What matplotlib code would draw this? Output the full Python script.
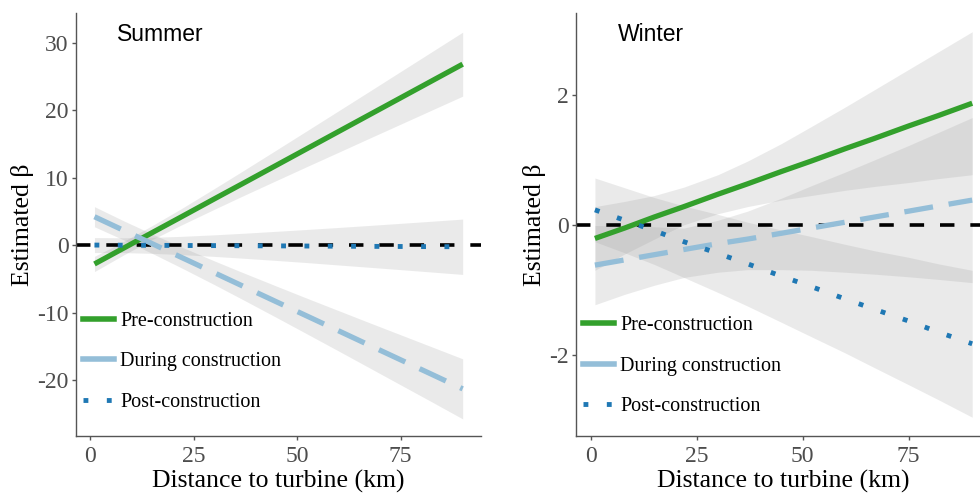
import matplotlib.pyplot as plt
from matplotlib.lines import Line2D

plt.rcParams['axes.unicode_minus'] = False

# distance to turbine (km) where the fitted lines / bands were read
dist = [1, 8, 15, 22, 30, 37, 45, 52, 60, 67, 75, 82, 90]

# Summer panel: fitted line, lower and upper band
summer_pre = [-2.8, -0.47, 1.86, 4.18, 6.85, 9.17, 11.83, 14.16, 16.82, 19.15, 21.81, 24.14, 26.8]
summer_pre_lo = [-3.93, -1.48, 0.82, 2.97, 5.31, 7.32, 9.57, 11.53, 13.75, 15.70, 17.91, 19.85, 22.06]
summer_pre_hi = [-1.67, 0.53, 2.90, 5.40, 8.38, 11.03, 14.10, 16.80, 19.89, 22.60, 25.71, 28.43, 31.54]
summer_during = [4.2, 2.19, 0.19, -1.82, -4.11, -6.12, -8.41, -10.41, -12.70, -14.71, -17.0, -19.0, -21.3]
summer_during_lo = [2.71, 0.78, -1.25, -3.37, -5.87, -8.12, -10.73, -13.04, -15.69, -18.03, -20.71, -23.05, -25.75]
summer_during_hi = [5.69, 3.61, 1.63, -0.27, -2.35, -4.11, -6.08, -7.79, -9.71, -11.39, -13.29, -14.95, -16.85]
summer_post = [0.0, -0.02, -0.04, -0.06, -0.08, -0.10, -0.12, -0.14, -0.17, -0.19, -0.21, -0.23, -0.25]
summer_post_lo = [-1.11, -1.12, -1.23, -1.41, -1.68, -1.95, -2.28, -2.58, -2.95, -3.27, -3.64, -3.97, -4.35]
summer_post_hi = [1.11, 1.08, 1.15, 1.29, 1.52, 1.75, 2.04, 2.30, 2.61, 2.89, 3.22, 3.51, 3.85]

# Winter panel
winter_pre = [-0.21, -0.05, 0.12, 0.28, 0.47, 0.63, 0.82, 0.98, 1.17, 1.33, 1.52, 1.68, 1.87]
winter_pre_lo = [-0.70, -0.45, -0.22, 0.0, 0.17, 0.28, 0.38, 0.45, 0.53, 0.59, 0.65, 0.71, 0.77]
winter_pre_hi = [0.28, 0.36, 0.45, 0.58, 0.77, 0.98, 1.25, 1.51, 1.81, 2.08, 2.39, 2.66, 2.97]
winter_during = [-0.62, -0.54, -0.46, -0.38, -0.29, -0.22, -0.13, -0.05, 0.04, 0.12, 0.21, 0.29, 0.38]
winter_during_lo = [-1.23, -1.07, -0.93, -0.81, -0.73, -0.69, -0.69, -0.70, -0.73, -0.76, -0.80, -0.84, -0.89]
winter_during_hi = [-0.01, -0.02, -0.03, -0.05, 0.07, 0.21, 0.41, 0.60, 0.81, 1.00, 1.22, 1.42, 1.65]
winter_post = [0.23, 0.07, -0.09, -0.26, -0.44, -0.60, -0.79, -0.95, -1.14, -1.30, -1.48, -1.65, -1.83]
winter_post_lo = [-0.26, -0.43, -0.61, -0.81, -1.04, -1.25, -1.50, -1.72, -1.97, -2.20, -2.46, -2.69, -2.96]
winter_post_hi = [0.72, 0.57, 0.42, 0.29, 0.16, 0.04, -0.08, -0.18, -0.30, -0.40, -0.50, -0.60, -0.70]

labels = ['Pre-construction', 'During construction', 'Post-construction']
c_pre = '#33a02c'
c_during = '#94bed8'
c_post = '#1f78b4'

serif = 'Liberation Serif'
sans = 'Liberation Sans'

fig = plt.figure(figsize=(9.8, 4.95), dpi=100)
ax1 = fig.add_axes([0.0776, 0.119, 0.4133, 0.855])
ax2 = fig.add_axes([0.5878, 0.119, 0.4235, 0.855])


def draw_panel(ax, pre, pre_lo, pre_hi, during, during_lo, during_hi,
               post, post_lo, post_hi, ylim, yticks, title, legend_y):
    # confidence bands
    for lo, hi in [(pre_lo, pre_hi), (during_lo, during_hi), (post_lo, post_hi)]:
        ax.fill_between(dist, lo, hi, color='#999999', alpha=0.2, lw=0)
    ax.axhline(0, color='black', lw=2.6, ls=(0, (4, 4.4)))
    ax.plot(dist, pre, color=c_pre, lw=3.8, solid_capstyle='butt')
    ax.plot(dist, during, color=c_during, lw=3.8, ls=(0, (5.5, 3)),
            dash_capstyle='butt')
    ax.plot(dist, post, color=c_post, lw=3.5, ls=(0, (1, 3.8)),
            dash_capstyle='butt')

    ax.set_xlim(-3.45, 94.45)
    ax.set_ylim(*ylim)
    ax.set_xticks([0, 25, 50, 75])
    ax.set_yticks(yticks)
    for s in ['top', 'right']:
        ax.spines[s].set_visible(False)
    for s in ['left', 'bottom']:
        ax.spines[s].set_color('#555555')
        ax.spines[s].set_linewidth(1.0)
    ax.tick_params(colors='#555555', length=3, width=1.0, labelsize=17,
                   labelcolor='#4d4d4d')
    ax.tick_params(axis='y', pad=2.5)
    ax.tick_params(axis='x', pad=4)
    for t in ax.get_xticklabels() + ax.get_yticklabels():
        t.set_family(serif)
    ax.set_xlabel('Distance to turbine (km)', fontsize=18.5, family=serif,
                  labelpad=2.5)
    ax.set_ylabel('Estimated β', fontsize=18.5, family=serif, labelpad=2)
    ax.text(0.1, 0.948, title, transform=ax.transAxes, fontsize=16.5,
            family=sans, va='center', ha='left')

    handles = [Line2D([], [], color=c_pre, lw=4),
               Line2D([], [], color=c_during, lw=4),
               Line2D([], [], color=c_post, lw=3.5, ls=(0, (1, 3.8)),
                      dash_capstyle='butt')]
    ax.legend(handles, labels, loc='upper left',
              bbox_to_anchor=(0.017, legend_y), frameon=False,
              prop={'family': serif, 'size': 14.5}, handlelength=1.55,
              handletextpad=0.3, labelspacing=1.05, borderpad=0,
              borderaxespad=0)


draw_panel(ax1, summer_pre, summer_pre_lo, summer_pre_hi,
           summer_during, summer_during_lo, summer_during_hi,
           summer_post, summer_post_lo, summer_post_hi,
           (-28.3, 34.4), [-20, -10, 0, 10, 20, 30], 'Summer', 0.293)
draw_panel(ax2, winter_pre, winter_pre_lo, winter_pre_hi,
           winter_during, winter_during_lo, winter_during_hi,
           winter_post, winter_post_lo, winter_post_hi,
           (-3.25, 3.26), [-2, 0, 2], 'Winter', 0.283)

fig.savefig('out.png', dpi=100)
